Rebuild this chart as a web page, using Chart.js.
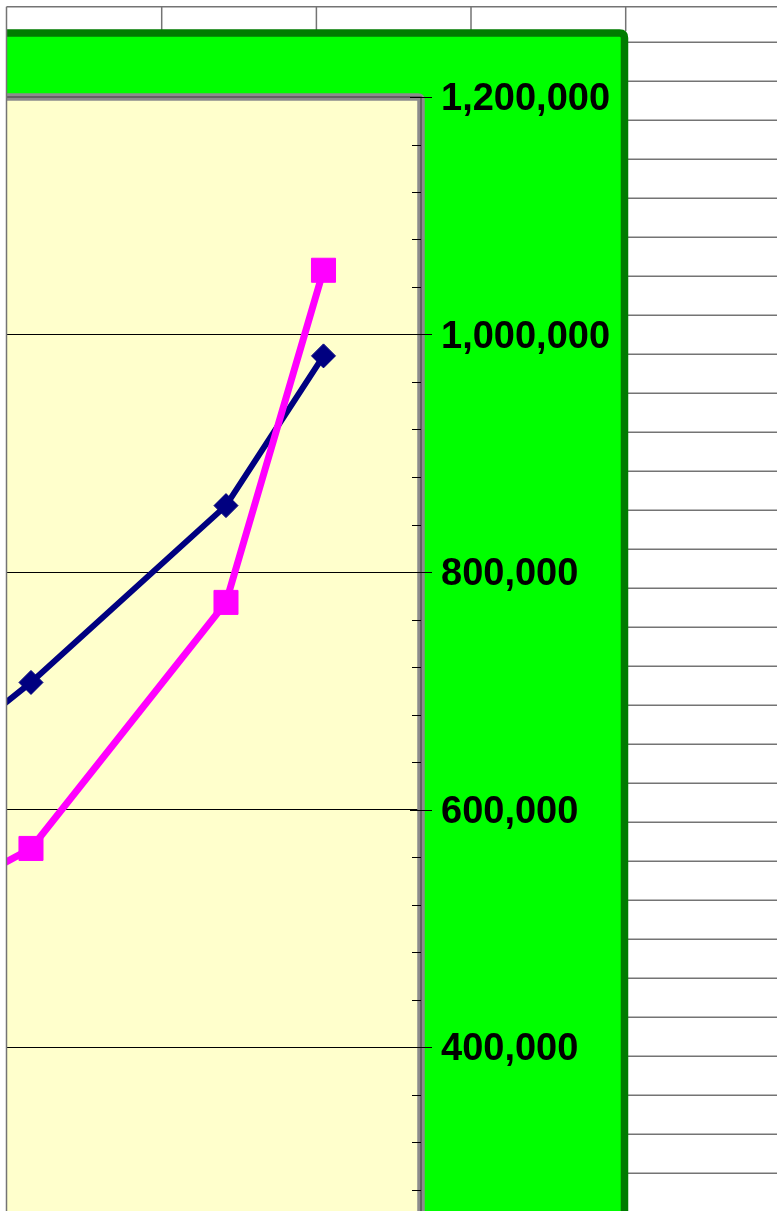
<!DOCTYPE html>
<html><head><meta charset="utf-8">
<script src="https://cdn.jsdelivr.net/npm/chart.js@4"></script>
<style>
html,body{margin:0;padding:0;overflow:hidden;background:#fff;width:777px;height:1211px}
#wrap{position:absolute;left:0;top:0;width:777px;height:1600px}
</style></head>
<body><div id="wrap"><canvas id="c" width="777" height="1600" style="width:777px;height:1600px"></canvas></div>
<script>
// x positions (period index; first point lies left of the visible crop)
const periods = [-1, 0, 2, 3];
const seriesNavy = [641500, 707000, 855900, 982000];
const seriesMagenta = [522200, 567200, 774400, 1054100];
const yMin = 0, yMax = 1200000, yMinorStep = 40000, yMajorStep = 200000;

const toPts = (vals) => vals.map((v, i) => ({x: periods[i], y: v}));

const decor = {
  id: 'decor',
  beforeDraw(chart) {
    const c = chart.ctx, a = chart.chartArea, W = chart.width, H = chart.height;
    c.save();
    c.fillStyle = '#fff'; c.fillRect(0, 0, W, H);
    // spreadsheet grid
    c.strokeStyle = '#747474'; c.lineWidth = 1.5;
    c.beginPath();
    c.moveTo(6.5, 6.7); c.lineTo(W, 6.7);
    [161.7, 316.4, 471, 625.7].forEach(x => { c.moveTo(x, 6.7); c.lineTo(x, 31); });
    for (let k = 0; k < 40; k++) { const y = 42.3 + 39 * k; c.moveTo(626, y); c.lineTo(W, y); }
    c.stroke();
    // chart area (green)
    const r = 5;
    c.fillStyle = '#00FF00';
    c.strokeStyle = '#007C00'; c.lineWidth = 7.5;
    c.beginPath();
    c.moveTo(-20, 33); c.lineTo(624.5 - r, 33);
    c.quadraticCurveTo(624.5, 33, 624.5, 33 + r);
    c.lineTo(624.5, H + 20); c.lineTo(-20, H + 20); c.closePath();
    c.fill(); c.stroke();
    // plot area
    c.fillStyle = '#FFFFCC';
    c.fillRect(a.left - 20, a.top, a.right - a.left + 20, H - a.top + 20);
    c.restore();
  },
  beforeDatasetsDraw(chart) {
    const c = chart.ctx, a = chart.chartArea, s = chart.scales.y, H = chart.height;
    c.save();
    // plot border
    c.strokeStyle = '#8C8C8C'; c.lineWidth = 7.5;
    c.beginPath();
    c.moveTo(a.left - 20, a.top); c.lineTo(a.right - 3, a.top);
    c.quadraticCurveTo(a.right, a.top, a.right, a.top + 3);
    c.lineTo(a.right, H + 20);
    c.stroke();
    c.strokeStyle = '#555'; c.lineWidth = 1.5;
    c.beginPath();
    c.moveTo(a.left - 20, a.top); c.lineTo(a.right, a.top); c.lineTo(a.right, H + 20);
    c.stroke();
    // tick marks
    c.strokeStyle = '#000'; c.lineWidth = 1;
    c.beginPath();
    s.ticks.forEach(t => {
      const y = Math.round(s.getPixelForValue(t.value)) + 0.5;
      if (t.value % yMajorStep === 0) { c.moveTo(a.right - 11, y); c.lineTo(a.right + 11, y); }
      else { c.moveTo(a.right - 9, y); c.lineTo(a.right, y); }
    });
    c.stroke();
    c.restore();
  },
  afterDraw(chart) {
    const c = chart.ctx;
    c.save();
    c.fillStyle = '#fff'; c.fillRect(0, 0, 6, chart.height);
    c.strokeStyle = '#747474'; c.lineWidth = 1.5;
    c.beginPath(); c.moveTo(6.5, 6.7); c.lineTo(6.5, chart.height); c.stroke();
    c.restore();
  }
};

new Chart(document.getElementById('c'), {
  type: 'line',
  data: {
    datasets: [
      {
        label: 'Series 2', data: toPts(seriesMagenta),
        borderColor: '#FF00FF', backgroundColor: '#FF00FF', borderWidth: 7,
        pointStyle: 'rect', pointRadius: 17, pointBorderWidth: 1,
        pointBorderColor: '#FF00FF', pointBackgroundColor: '#FF00FF',
        tension: 0, clip: 0
      },
      {
        label: 'Series 1', data: toPts(seriesNavy),
        borderColor: '#000080', backgroundColor: '#000080', borderWidth: 6,
        pointStyle: 'rectRot', pointRadius: 12, pointBorderWidth: 1,
        pointBorderColor: '#000080', pointBackgroundColor: '#000080',
        tension: 0, clip: 0
      }
    ]
  },
  options: {
    responsive: false, animation: false, devicePixelRatio: 1,
    layout: { autoPadding: false, padding: { left: 7, top: 97, right: 0, bottom: 78 } },
    plugins: { legend: { display: false }, tooltip: { enabled: false } },
    elements: { point: { hoverRadius: 0 } },
    scales: {
      x: { type: 'linear', display: false, min: -0.246, max: 4 },
      y: {
        position: 'right', min: yMin, max: yMax,
        afterFit(scale) { scale.width = 356; },
        border: { display: false },
        grid: {
          drawTicks: false, tickLength: 0, lineWidth: 1,
          color: (ctx) => (ctx.tick && ctx.tick.value % yMajorStep === 0 && ctx.tick.value !== yMax) ? '#000' : 'rgba(0,0,0,0)'
        },
        ticks: {
          stepSize: yMinorStep, autoSkip: false, padding: 20, labelOffset: 3, color: '#000',
          font: { family: '"Liberation Sans", Arial, sans-serif', size: 38, weight: 'bold' },
          callback: (v) => v % yMajorStep === 0 ? v.toLocaleString('en-US') : ''
        }
      }
    }
  },
  plugins: [decor]
});
</script>
</body></html>
